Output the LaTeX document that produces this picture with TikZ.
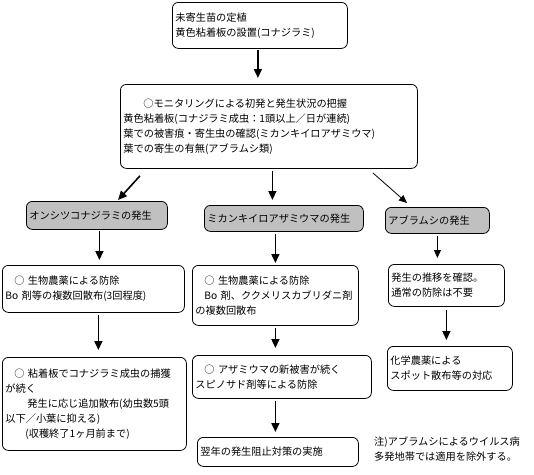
\documentclass[tikz,border=0pt]{standalone}
\usepackage{fontspec}
\setmainfont{Noto Sans CJK JP}
\usetikzlibrary{arrows.meta}
\definecolor{boxgray}{RGB}{192,192,192}

\begin{document}
\begin{tikzpicture}[
		x=1pt, y=-1pt,
		>={Triangle[width=8pt,length=9pt]},
		font=\fontsize{10.2}{15}\selectfont,
		stage/.style={draw, rectangle, rounded corners=6pt, line width=0.8pt, anchor=north west, align=left, inner xsep=3pt, inner ysep=2pt},
		pest/.style={stage, fill=boxgray},
		flow/.style={->, line width=1.6pt},
		thinflow/.style={->, line width=0.8pt, >={Triangle[width=7pt,length=8pt]}}
	]

	\useasboundingbox (0,0) rectangle (534,474);

	% Nodes
	\node[stage, text width=169pt, minimum height=46pt] (planting) at (172,2) {未寄生苗の定植\\黄色粘着板の設置(コナジラミ)};

	\node[stage, text width=291pt, minimum height=84pt] (monitor) at (120,84) {\hspace*{20pt}○モニタリングによる初発と発生状況の把握\\黄色粘着板(コナジラミ成虫：1頭以上／日が連続)\\葉での被害痕・寄生虫の確認(ミカンキイロアザミウマ)\\葉での寄生の有無(アブラムシ類)};

	\node[pest, text width=135pt, minimum height=28pt] (whitefly) at (26,201) {オンシツコナジラミの発生};
	\node[pest, text width=153pt, minimum height=26pt] (thrips) at (204,205) {ミカンキイロアザミウマの発生};
	\node[pest, text width=98pt, minimum height=26pt] (aphid) at (385,207) {アブラムシの発生};

	\node[stage, text width=176pt, minimum height=47pt] (wfbio) at (2,265) {\hspace*{9pt}○\ 生物農薬による防除\\Bo~剤等の複数回散布(3回程度)};
	\node[stage, text width=160pt, minimum height=60pt] (thbio) at (192,265) {\hspace*{9pt}○\ 生物農薬による防除\\\hspace*{9pt}Bo~剤、ククメリスカブリダニ剤\\の複数回散布};
	\node[stage, text width=110pt, minimum height=42pt] (aphcheck) at (388,264) {発生の推移を確認。\\通常の防除は不要};

	\node[stage, text width=178pt, minimum height=93pt] (wfadd) at (2,357) {\hspace*{9pt}○\ 粘着板でコナジラミ成虫の捕獲\\が続く\\\hspace*{22pt}発生に応じ追加散布(幼虫数5頭\\以下／小葉に抑える)\\\hspace*{20pt}(収穫終了1ヶ月前まで)};
	\node[stage, text width=173pt, minimum height=43pt] (thspino) at (192,355) {\hspace*{9pt}○\ アザミウマの新被害が続く\\スピノサド剤等による防除};
	\node[stage, text width=119pt, minimum height=44pt] (aphspot) at (387,346) {化学農薬による\\スポット散布等の対応};

	\node[stage, text width=155pt, minimum height=29pt] (nextyear) at (197,437) {翌年の発生阻止対策の実施};

	\node[anchor=north west, align=left, inner sep=0pt] (note) at (374,437) {注)アブラムシによるウイルス病\\多発地帯では適用を除外する。};

	% Arrows
	\draw[flow, shorten <=1pt, shorten >=6pt] ([xshift=-2pt]planting.south) -- ([xshift=-2pt]planting.south |- monitor.north);

	\draw[flow] ([xshift=20pt,yshift=-7pt]monitor.south west) -- ([xshift=92pt,yshift=1pt]whitefly.north west);
	\draw[flow, shorten <=2pt, shorten >=5pt] ([xshift=3.5pt]monitor.south) -- ([xshift=3.5pt]monitor.south |- thrips.north);
	\draw[thinflow] ([xshift=-45pt,yshift=-4pt]monitor.south east) -- ([xshift=22pt,yshift=4pt]aphid.north west);

	\draw[flow, shorten <=1pt, shorten >=5pt] ([xshift=2.5pt]whitefly.south) -- ([xshift=2.5pt]whitefly.south |- wfbio.north);
	\draw[flow, shorten <=2pt, shorten >=2pt] (thbio.north |- thrips.south) -- (thbio.north);
	\draw[thinflow, shorten <=2pt, shorten >=6pt] (aphid.south) -- (aphid.south |- aphcheck.north);

	\draw[flow, shorten <=2pt, shorten >=7pt] ([xshift=5pt]wfbio.south) -- ([xshift=5pt]wfbio.south |- wfadd.north);
	\draw[flow, shorten <=2pt, shorten >=7pt] (thbio.south) -- (thbio.south |- thspino.north);
	\draw[flow, shorten <=2pt, shorten >=5pt] (thbio.south |- thspino.south) -- (thbio.south |- nextyear.north);
	\draw[flow, shorten <=3pt, shorten >=6pt] (aphcheck.south) -- (aphcheck.south |- aphspot.north);

\end{tikzpicture}
\end{document}
